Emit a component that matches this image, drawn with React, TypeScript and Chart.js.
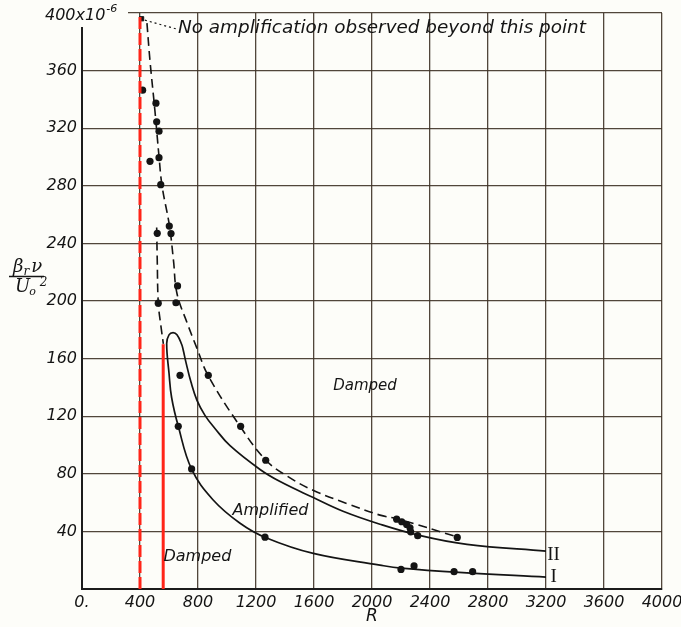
import React, { useEffect, useRef } from 'react';
import { Chart, registerables } from 'chart.js';
Chart.register(...registerables);

// ---- Data (R, beta_r*nu/U0^2 in units of 1e-6) ----
// Solid neutral curve: branch II (from right end back to the nose), then branch I
const solidR = [3200, 2655, 2317, 2055, 1800, 1595, 1366, 1228, 1021, 917, 848, 793, 752, 717, 698, 687, 655, 628, 600, 584, 600, 618, 664, 756, 903, 1090, 1269, 1595, 2055, 2200, 2600, 3200];
const solidV = [26.3, 31, 37.5, 45, 54, 63.5, 74.6, 83, 99.5, 111.5, 120.6, 131, 143.5, 157.4, 166, 170, 176.5, 178, 176.5, 170.5, 150, 133, 113, 83.2, 62, 45.7, 35.6, 24.7, 16.6, 14.5, 11.5, 8.3];

// Dashed experimental curve: upper branch
const dashR = [448, 469, 503, 531, 552, 603, 631, 655, 724, 793, 869, 1090, 1269, 1421, 1593, 1826, 2055, 2172, 2593];
const dashV = [393, 366.7, 332, 300.5, 280, 252.3, 228, 205.2, 185.1, 167.1, 148.4, 113, 89.4, 78, 68.6, 59.4, 51.3, 48.8, 36];

// Dashed experimental curve: lower-left branch
const dashLowR = [515, 519, 526, 545, 561];
const dashLowV = [251, 228, 198.5, 182, 170.3];

// Measured points
const dotR = [418, 510, 515, 531, 469, 531, 543, 602, 614, 519, 659, 648, 526, 676, 871, 664, 1094, 756, 1267, 1262, 2170, 2205, 2239, 2262, 2267, 2315, 2588, 2200, 2290, 2566, 2694];
const dotV = [346.4, 337.4, 324.4, 317.9, 297, 299.5, 280.8, 252, 246.8, 247, 210.5, 198.8, 198.5, 148.4, 148.4, 113, 113, 83.4, 89.4, 36, 48.5, 46.7, 44.8, 42.5, 39.7, 37, 35.8, 13.6, 16, 12, 12];

// "No amplification observed beyond this point" marker and leader
const markerR = [411];
const markerV = [396];
const leaderR = [434, 648];
const leaderV = [395, 389];

// Red lines
const redDashR = [400, 400];
const redDashV = [0, 400];
const redSolidR = [560, 560];
const redSolidV = [0, 170];

// Axis ticks
const xMin = 0, xMax = 4000, xStep = 400;
const yMin = 0, yMax = 400, yStep = 40;
const topLabelMain = '400x10';
const topLabelExp = '-6';
const xTitle = 'R';

// Text annotations (anchors in data units)
const notes = [
  { text: 'Damped', r: 1952, v: 141, align: 'center', font: 'italic 15px "DejaVu Sans"' },
  { text: 'Amplified', r: 1300, v: 54.3, align: 'center', font: 'italic 16px "DejaVu Sans"' },
  { text: 'Damped', r: 796, v: 22.4, align: 'center', font: 'italic 16px "DejaVu Sans"' },
  { text: 'II', r: 3252, v: 23.6, align: 'center', font: '19px "Liberation Serif"' },
  { text: 'I', r: 3252, v: 8.1, align: 'center', font: '19px "Liberation Serif"' },
  { text: 'No amplification observed beyond this point', r: 662, v: 389.5, align: 'left', font: 'italic 18.4px "DejaVu Sans"' },
];

const pts = (rs: number[], vs: number[]) => rs.map((r, i) => ({ x: r, y: vs[i] }));

const INK = '#141414';
const RED = '#ff2418';
const BG = '#fdfdf9';

export default function App() {
  const ref = useRef<HTMLCanvasElement | null>(null);

  useEffect(() => {
    document.body.style.margin = '0';
    const canvas = ref.current;
    if (!canvas) return;

    const bgPlugin = {
      id: 'bg',
      beforeDraw(chart: any) {
        const { ctx, width, height } = chart;
        ctx.save();
        ctx.fillStyle = BG;
        ctx.fillRect(0, 0, width, height);
        ctx.restore();
      },
    };

    const textPlugin = {
      id: 'texts',
      afterDatasetsDraw(chart: any) {
        const { ctx, scales } = chart;
        const xs = scales.x, ys = scales.y;
        ctx.save();
        ctx.fillStyle = INK;
        ctx.textBaseline = 'middle';
        for (const n of notes) {
          ctx.font = n.font;
          ctx.textAlign = n.align as CanvasTextAlign;
          ctx.fillText(n.text, xs.getPixelForValue(n.r), ys.getPixelForValue(n.v));
        }

        // top y label with background patch
        const topY = ys.getPixelForValue(yMax);
        const left = chart.chartArea.left;
        ctx.fillStyle = BG;
        ctx.fillRect(left - 40, 0, 86, topY + 14);
        ctx.fillStyle = INK;
        ctx.textAlign = 'left';
        ctx.textBaseline = 'alphabetic';
        ctx.font = 'italic 16px "DejaVu Sans"';
        const x0 = left - 37;
        ctx.fillText(topLabelMain, x0, topY + 7);
        const w = ctx.measureText(topLabelMain).width;
        ctx.font = 'italic 11px "DejaVu Sans"';
        ctx.fillText(topLabelExp, x0 + w + 1, topY - 1);

        // y-axis title: beta_r nu / U_o^2
        const cy = ys.getPixelForValue(217);
        const cx = left - 55;
        ctx.font = 'italic 18px "DejaVu Serif"';
        let x = cx - 14;
        ctx.fillText('β', x, cy - 5);
        x += ctx.measureText('β').width;
        ctx.font = 'italic 12px "DejaVu Serif"';
        ctx.fillText('r', x, cy - 2);
        x += ctx.measureText('r').width + 2;
        ctx.font = 'italic 18px "DejaVu Serif"';
        ctx.fillText('ν', x, cy - 5);
        ctx.strokeStyle = INK;
        ctx.lineWidth = 1.3;
        ctx.beginPath();
        ctx.moveTo(cx - 18, cy);
        ctx.lineTo(cx + 17, cy);
        ctx.stroke();
        x = cx - 12;
        ctx.font = 'italic 18px "DejaVu Serif"';
        ctx.fillText('U', x, cy + 15);
        x += ctx.measureText('U').width;
        ctx.font = 'italic 11px "DejaVu Serif"';
        ctx.fillText('o', x - 1, cy + 18);
        x += ctx.measureText('o').width + 3;
        ctx.font = 'italic 12px "DejaVu Serif"';
        ctx.fillText('2', x, cy + 9);
        ctx.restore();
      },
    };

    const chart = new Chart(canvas, {
      type: 'scatter',
      data: {
        datasets: [
          {
            data: pts(redDashR, redDashV), showLine: true, borderColor: RED, borderWidth: 3,
            borderDash: [12, 4], pointRadius: 0, tension: 0,
          },
          {
            data: pts(redSolidR, redSolidV), showLine: true, borderColor: RED, borderWidth: 3,
            pointRadius: 0, tension: 0,
          },
          {
            data: pts(solidR, solidV), showLine: true, borderColor: INK, borderWidth: 1.7,
            pointRadius: 0, tension: 0.4,
          },
          {
            data: pts(dashR, dashV), showLine: true, borderColor: INK, borderWidth: 1.6,
            borderDash: [9, 5], pointRadius: 0, tension: 0.4,
          },
          {
            data: pts(dashLowR, dashLowV), showLine: true, borderColor: INK, borderWidth: 1.6,
            borderDash: [9, 5], pointRadius: 0, tension: 0.35,
          },
          {
            data: pts(leaderR, leaderV), showLine: true, borderColor: INK, borderWidth: 1.2,
            borderDash: [2, 3], pointRadius: 0, tension: 0,
          },
          {
            data: pts(markerR, markerV), showLine: false, pointStyle: 'rect', pointRadius: 3,
            backgroundColor: INK, borderColor: INK,
          },
          {
            data: pts(dotR, dotV), showLine: false, pointRadius: 3.6,
            backgroundColor: INK, borderColor: INK, borderWidth: 0,
          },
        ],
      },
      options: {
        animation: false,
        responsive: false,
        events: [],
        layout: { padding: { top: 13, right: 19, left: 0, bottom: 0 } },
        plugins: { legend: { display: false }, tooltip: { enabled: false } },
        scales: {
          x: {
            type: 'linear', min: xMin, max: xMax,
            afterFit: (s: any) => { s.height = 38; s.paddingLeft = 0; s.paddingRight = 0; },
            ticks: {
              stepSize: xStep, autoSkip: false, maxRotation: 0, padding: 4, color: INK,
              font: { family: 'DejaVu Sans', style: 'italic', size: 16 },
              callback: (v: any) => (v === 0 ? '0.' : String(v)),
            },
            grid: { color: 'rgba(62,50,38,0.9)', lineWidth: 1.3, drawTicks: false },
            border: { color: '#1c1c1c', width: 2 },
            title: {
              display: true, text: xTitle, color: INK, padding: { top: 0, bottom: 0 },
              font: { family: 'DejaVu Sans', style: 'italic', size: 17 },
            },
          },
          y: {
            type: 'linear', min: yMin, max: yMax,
            afterFit: (s: any) => { s.width = 82; s.paddingTop = 0; s.paddingBottom = 0; },
            ticks: {
              stepSize: yStep, autoSkip: false, padding: 5, color: INK,
              font: { family: 'DejaVu Sans', style: 'italic', size: 16 },
              callback: (v: any) => (v === 0 || v === yMax ? '' : String(v)),
            },
            grid: { color: 'rgba(62,50,38,0.9)', lineWidth: 1.3, drawTicks: false },
            border: { color: '#1c1c1c', width: 2 },
          },
        },
      },
      plugins: [bgPlugin, textPlugin],
    } as any);

    return () => chart.destroy();
  }, []);

  return (
    <div style={{ position: 'absolute', left: 0, top: 0, width: 681, height: 627 }}>
      <canvas ref={ref} width={681} height={627} style={{ display: 'block' }} />
    </div>
  );
}
